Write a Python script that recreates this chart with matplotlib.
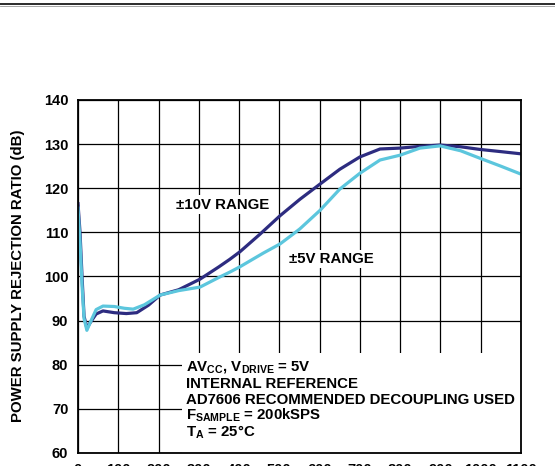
"""PSRR vs supply noise frequency, AD7606 style chart."""

import matplotlib
matplotlib.use("Agg")
import matplotlib.pyplot as plt
from matplotlib.lines import Line2D
from matplotlib.patches import Rectangle

# Supply noise frequency (kHz) and PSRR (dB)
freq_10v = [0, 5, 10, 15, 22, 30, 45, 62, 90, 120, 146, 175, 204, 250, 303, 350, 377,
            402, 452, 502, 551, 593, 650, 700, 750, 800, 850, 899, 950, 998, 1050, 1100]
psrr_10v = [116.5, 110, 100, 91, 88.3, 89.5, 91.5, 92.2, 91.8, 91.6, 91.8, 93.5, 95.8,
            97, 99.4, 102.2, 103.9, 105.6, 109.6, 113.8, 117.5, 120.4, 124.3, 127.1,
            128.9, 129.1, 129.5, 129.8, 129.4, 128.8, 128.3, 127.8]

freq_5v = [0, 5, 10, 15, 22, 30, 45, 62, 90, 115, 137, 165, 204, 250, 303, 350, 377,
           402, 460, 502, 534, 551, 601, 650, 700, 750, 800, 849, 899, 950, 998, 1050, 1100]
psrr_5v = [115.5, 108, 98, 90.5, 87.8, 89.5, 92.5, 93.3, 93.2, 92.8, 92.6, 93.6, 95.8,
           96.8, 97.6, 99.8, 101.0, 102.2, 105.3, 107.4, 109.6, 110.8, 115, 119.8, 123.4,
           126.4, 127.5, 129.1, 129.6, 128.5, 126.8, 125, 123.2]

x_ticks = list(range(0, 1200, 100))
y_ticks = list(range(60, 150, 10))

conditions = [
    r"AV$_\mathrm{CC}$, V$_\mathrm{DRIVE}$ = 5V",
    "INTERNAL REFERENCE",
    "AD7606 RECOMMENDED DECOUPLING USED",
    r"F$_\mathrm{SAMPLE}$ = 200kSPS",
    r"T$_\mathrm{A}$ = 25°C",
]

plt.rcParams["font.family"] = "Liberation Sans"
plt.rcParams["font.weight"] = "bold"
plt.rcParams["mathtext.fontset"] = "custom"
plt.rcParams["mathtext.rm"] = "Liberation Sans:bold"
plt.rcParams["mathtext.it"] = "Liberation Sans:bold"
plt.rcParams["mathtext.bf"] = "Liberation Sans:bold"

fig = plt.figure(figsize=(5.55, 4.66), dpi=100)
ax = fig.add_axes([78 / 555, 1 - 453 / 466, 443 / 555, 353 / 466])

ax.set_xlim(0, 1100)
ax.set_ylim(60, 140)
ax.set_xticks(x_ticks)
ax.set_yticks(y_ticks)
ax.tick_params(length=0, labelsize=10.5)
ax.tick_params(axis="y", pad=7)
ax.tick_params(axis="x", pad=7.5)
ax.grid(True, color="black", linewidth=0.9, zorder=0)
ax.set_axisbelow(True)
for sp in ax.spines.values():
    sp.set_linewidth(1.3)
    sp.set_zorder(5)

ax.plot(freq_10v, psrr_10v, color="#2d2c80", linewidth=2.3, zorder=3)
ax.plot(freq_5v, psrr_5v, color="#5cc6dd", linewidth=2.3, zorder=3.5)

# white block behind the test conditions
ax.add_patch(Rectangle((258, 60), 842, 22.6, facecolor="white", edgecolor="none", zorder=2))
for i, line in enumerate(conditions):
    ax.text(267, 79.4 - i * 3.65, line, fontsize=10.8, va="center", ha="left", zorder=4)

ax.text(358, 116.3, "±10V RANGE", fontsize=10.8, ha="center", va="center", zorder=4,
        bbox=dict(facecolor="white", edgecolor="none", pad=1.5))
ax.text(628, 104.0, "±5V RANGE", fontsize=10.8, ha="center", va="center", zorder=4,
        bbox=dict(facecolor="white", edgecolor="none", pad=1.5))

fig.text(18 / 555, 1 - 276 / 466, "POWER SUPPLY REJECTION RATIO (dB)", rotation=90,
         ha="center", va="center", fontsize=10.8)

# rule across the top of the page
fig.add_artist(Line2D([0, 1], [1 - 3.5 / 466, 1 - 3.5 / 466], transform=fig.transFigure,
                      color="#1a1a1a", linewidth=1.3))
fig.add_artist(Line2D([0, 1], [1 - 5.5 / 466, 1 - 5.5 / 466], transform=fig.transFigure,
                      color="#999999", linewidth=0.6))

fig.savefig("out.png", dpi=100)
